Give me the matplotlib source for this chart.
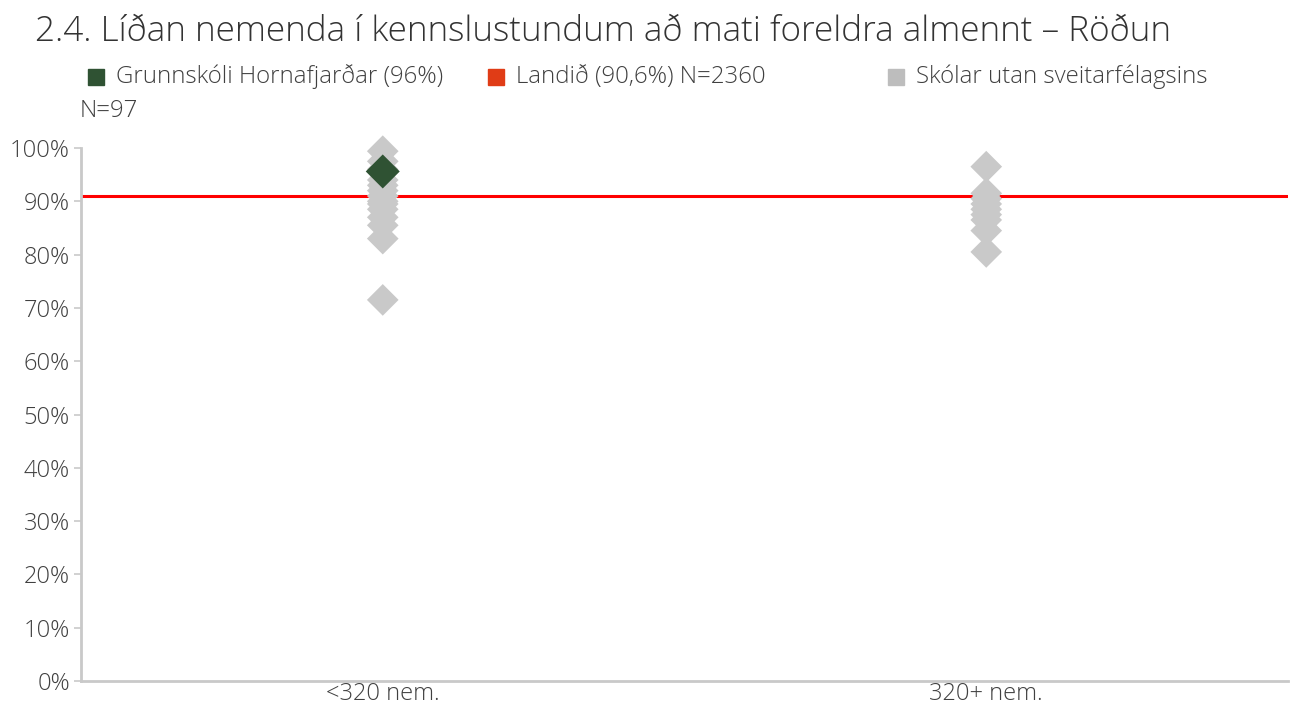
#!/usr/bin/python3

import matplotlib.pyplot as plt
from matplotlib.patches import Rectangle

plt.rcParams['font.family'] = ['Open Sans', 'DejaVu Sans']
plt.rcParams['font.weight'] = 'light'

title = '2.4. Líðan nemenda í kennslustundum að mati foreldra almennt – Röðun'
categories = ['<320 nem.', '320+ nem.']

# other schools, per size group (%)
others_small = [99.4, 97.5, 96.0, 94.0, 93.0, 92.0, 91.0, 90.0, 89.5, 88.5,
                87.0, 85.5, 83.0, 71.5]
others_large = [96.5, 91.5, 90.5, 89.5, 88.5, 87.5, 86.5, 84.5, 80.5]

school_cat = 0
school_value = 95.6
national_value = 91.0

legend_labels = ['Grunnskóli Hornafjarðar (96%)', 'Landið (90,6%) N=2360',
                 'Skólar utan sveitarfélagsins']
legend_extra = 'N=97'

grey = '#c9c9c9'
green = '#2f5233'
red = '#ff0000'
text_color = '#404040'


def main():
    fig = plt.figure(figsize=(12.9, 7.08), dpi=100)
    ax = fig.add_axes([81 / 1290, 1 - 681 / 708, 1207 / 1290, (681 - 148) / 708])

    for i, vals in enumerate([others_small, others_large]):
        ax.scatter([i] * len(vals), vals, marker='D', s=260, color=grey,
                   edgecolors='none', zorder=3, clip_on=False)

    ax.axhline(national_value, color=red, lw=2.2, zorder=2)
    ax.scatter([school_cat], [school_value], marker='D', s=300, color=green,
               edgecolors='none', zorder=4, clip_on=False)

    ax.set_xlim(-0.5, 1.5)
    ax.set_ylim(0, 100)
    ax.set_xticks(range(len(categories)))
    ax.set_xticklabels(categories)
    ax.set_yticks(range(0, 101, 10))
    ax.set_yticklabels(['{}%'.format(v) for v in range(0, 101, 10)])
    ax.tick_params(axis='x', length=0, labelsize=17, colors=text_color, pad=1)
    ax.tick_params(axis='y', length=5, width=1.2, color=grey, labelsize=17,
                   labelcolor=text_color, pad=3)

    for pos in ['top', 'right']:
        ax.spines[pos].set_visible(False)
    for pos in ['left', 'bottom']:
        ax.spines[pos].set_color(grey)
        ax.spines[pos].set_linewidth(2)

    fig.text(35 / 1290, 1 - 32 / 708, title, fontsize=25.3, color='#333333',
             va='center', ha='left')

    # legend drawn by hand to keep the wrapped layout
    colors = [green, '#e03c16', '#bdbdbd']
    xs = [88, 488, 888]
    for x, c, lab in zip(xs, colors, legend_labels):
        fig.add_artist(Rectangle((x / 1290, 1 - 85 / 708), 16 / 1290, 16 / 708,
                                 transform=fig.transFigure, color=c))
        fig.text((x + 28) / 1290, 1 - 77 / 708, lab, fontsize=17.3,
                 color=text_color, va='center', ha='left')
    fig.text(80 / 1290, 1 - 111 / 708, legend_extra, fontsize=17.3,
             color=text_color, va='center', ha='left')

    fig.savefig('out.png', dpi=100, facecolor='white')


if __name__ == '__main__':
    main()
